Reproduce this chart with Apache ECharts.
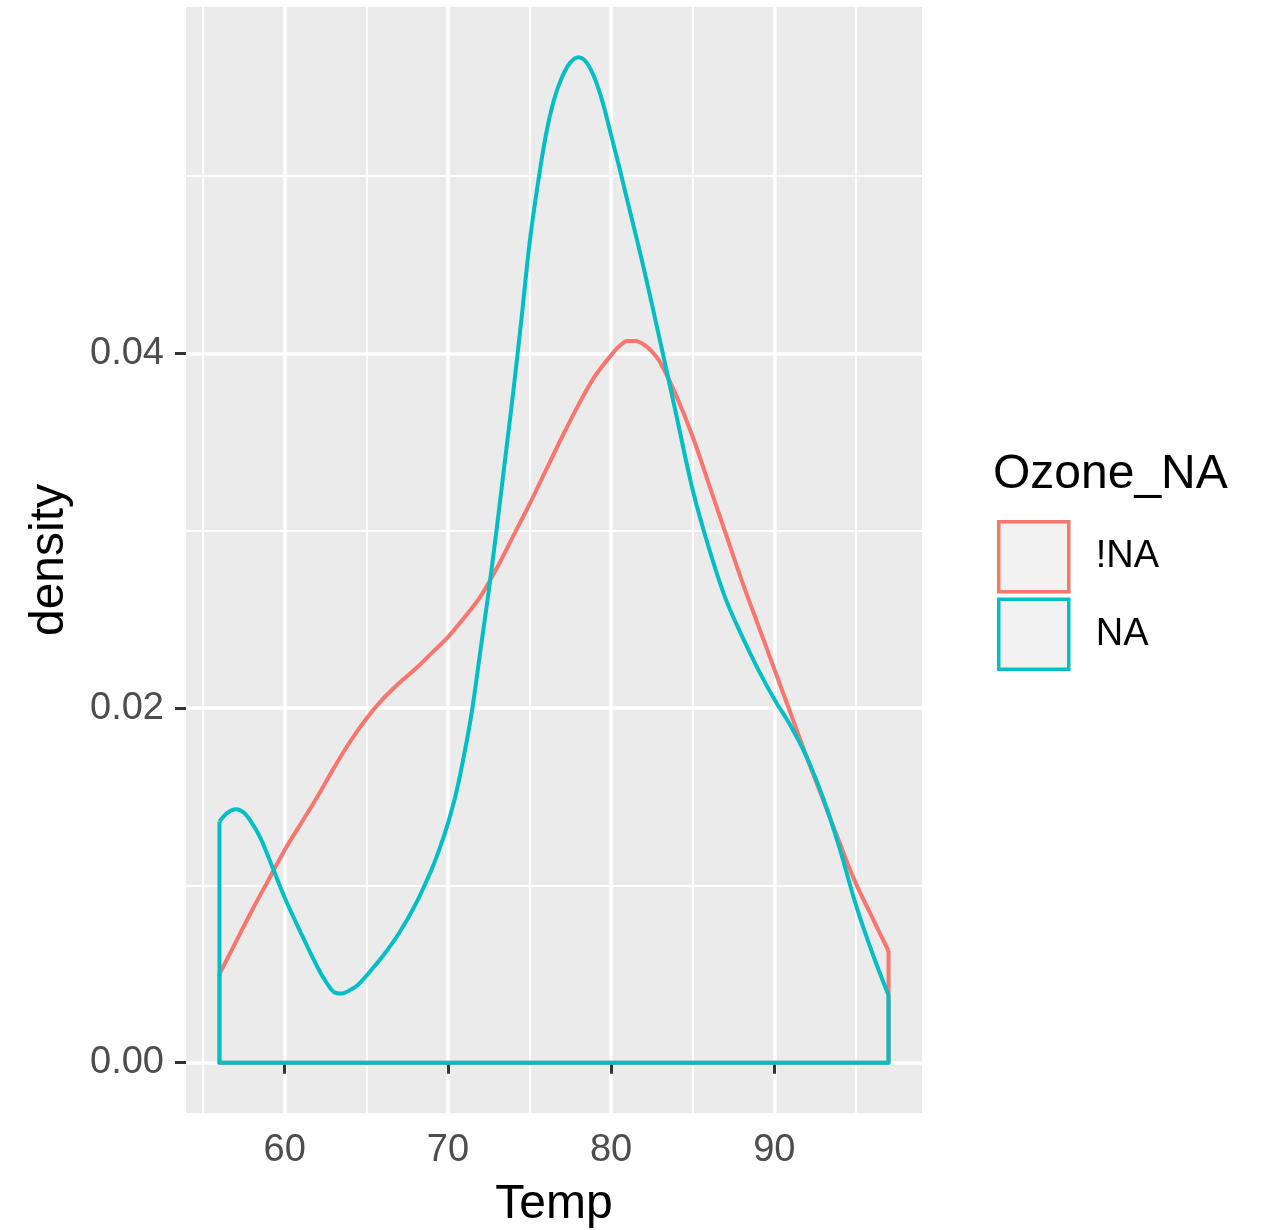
<!DOCTYPE html>
<html>
<head>
<meta charset="utf-8">
<script src="https://cdn.jsdelivr.net/npm/echarts@6/dist/echarts.min.js"></script>
<style>
  html, body { margin: 0; padding: 0; background: #fff; }
  #main { width: 1266px; height: 1230px; }
</style>
</head>
<body>
<div id="main"></div>
<script>
// Ozone present (!NA): Temp values and density
// (half steps where the curve bends hard)
const tempsNotNA = [56, 57, 58, 59, 60, 61, 62, 63, 64, 65, 66, 67, 68, 69, 70, 71, 72, 73, 74, 75,
  76, 77, 78, 79, 80, 80.5, 81, 81.5, 82, 82.5, 83, 84, 85, 86, 87, 88, 89, 90, 91, 92, 93, 94,
  95, 96, 97];
const densityNotNA = [0.0050, 0.0068, 0.0086, 0.0103, 0.0120, 0.0135, 0.0150, 0.0166, 0.0181, 0.0194,
  0.0205, 0.0214, 0.0222, 0.0231, 0.0240, 0.0251, 0.0263, 0.0279, 0.0297, 0.0315,
  0.0334, 0.0353, 0.0371, 0.0387, 0.0399, 0.0404, 0.0407, 0.0407, 0.0405, 0.0401, 0.0395, 0.0376,
  0.0353, 0.0326, 0.0299, 0.0272, 0.0247, 0.0222, 0.0197, 0.0172, 0.0148, 0.0124,
  0.0101, 0.0082, 0.0063];

// Ozone missing (NA)
const tempsNA = [56, 56.5, 57, 57.5, 58, 58.5, 59, 60, 61, 62, 62.5, 63, 63.5, 64, 64.5, 65, 66, 67,
  68, 69, 69.5, 70, 70.5, 71, 71.5, 72, 72.5, 73, 73.5, 74, 74.5, 75, 75.5, 76, 76.5, 77, 77.5,
  78, 78.5, 79, 79.5, 80, 80.5, 81, 82, 83, 84, 85, 86, 87, 88, 89, 90, 91, 92, 93, 94, 95, 96, 97];
const densityNA = [0.0136, 0.0141, 0.0143, 0.0141, 0.0135, 0.0127, 0.0116, 0.0093, 0.0073, 0.0054,
  0.0046, 0.0040, 0.0039, 0.0041, 0.0044, 0.0049, 0.0060, 0.0073,
  0.0089, 0.0109, 0.0121, 0.0135, 0.0152, 0.0174, 0.0200, 0.0233, 0.0266, 0.0302, 0.0340,
  0.0378, 0.0419, 0.0462, 0.0495, 0.0523, 0.0543, 0.0556, 0.0564,
  0.0567, 0.0564, 0.0555, 0.0541, 0.0523, 0.0505, 0.0486, 0.0448, 0.0407, 0.0365, 0.0323, 0.0290,
  0.0262, 0.0241, 0.0222, 0.0205, 0.0190, 0.0172, 0.0149, 0.0121, 0.0089, 0.0062, 0.0038];

const xTicks = [60, 70, 80, 90];
const xMinorTicks = [55, 65, 75, 85, 95];
const yTicks = [0, 0.02, 0.04];
const yMinorTicks = [0.01, 0.03, 0.05];

const groupNames = ["!NA", "NA"];
const groupColors = ["#F8766D", "#00BFC4"];

// ggplot style 5% expansion
const tFirst = Math.min(tempsNotNA[0], tempsNA[0]);
const tLast = Math.max(tempsNotNA[tempsNotNA.length - 1], tempsNA[tempsNA.length - 1]);
const xMin = tFirst - (tLast - tFirst) * 0.05;
const xMax = tLast + (tLast - tFirst) * 0.05;
const yTop = Math.max(...densityNotNA, ...densityNA);
const yMin = -yTop * 0.05;
const yMax = yTop * 1.05;

function curveData(xs, vals) {
  return xs.map((t, i) => [t, vals[i]]);
}

// left edge, baseline and right edge of the density polygon
function edgeData(xs, vals) {
  const n = xs.length - 1;
  return [[xs[0], vals[0]], [xs[0], 0], [xs[n], 0], [xs[n], vals[n]]];
}

const chart = echarts.init(document.getElementById("main"));

const fontName = "Liberation Sans, Arial, sans-serif";
const tickFont = { fontSize: 38, color: "#4D4D4D", fontFamily: fontName };

function lineSeries(name, color, data, smooth) {
  return {
    name: name,
    type: "line",
    data: data,
    smooth: smooth,
    symbol: "none",
    xAxisIndex: 0,
    yAxisIndex: 0,
    lineStyle: { color: color, width: 4, join: "round" },
    itemStyle: { color: color },
    emphasis: { disabled: true },
  };
}

const option = {
  animation: false,
  backgroundColor: "#fff",
  grid: {
    left: 186,
    top: 7,
    width: 736,
    height: 1106,
    show: true,
    backgroundColor: "#EBEBEB",
    borderWidth: 0,
    containLabel: false,
    outerBoundsMode: "none",
  },
  title: {
    text: "Ozone_NA",
    left: 988,
    top: 446,
    textStyle: { fontSize: 48, fontWeight: "normal", color: "#000", fontFamily: fontName },
  },
  legend: {
    orient: "vertical",
    left: 992,
    top: 515,
    itemWidth: 70,
    itemHeight: 70,
    itemGap: 4,
    icon: "rect",
    selectedMode: false,
    textStyle: {
      fontSize: 38,
      color: "#000",
      fontFamily: fontName,
      padding: [0, 0, 0, 22],
    },
    data: groupNames.map((n, i) => ({
      name: n,
      itemStyle: { color: "#F2F2F2", borderColor: groupColors[i], borderWidth: 3.5 },
    })),
  },
  xAxis: [
    {
      type: "value",
      min: xMin,
      max: xMax,
      name: "Temp",
      nameLocation: "middle",
      nameGap: 68,
      nameMoveOverlap: false,
      nameTextStyle: { fontSize: 48, color: "#000", fontFamily: fontName },
      axisLine: { show: false },
      axisTick: { show: true, length: 11, customValues: xTicks, lineStyle: { color: "#333", width: 3 } },
      axisLabel: { customValues: xTicks, margin: 19, ...tickFont },
      splitLine: { show: true, lineStyle: { color: "#fff", width: 3.5 } },
    },
    {
      type: "value",
      min: xMin,
      max: xMax,
      axisLine: { show: false },
      axisTick: { show: false, customValues: xMinorTicks },
      axisLabel: { show: false, customValues: xMinorTicks },
      splitLine: { show: true, lineStyle: { color: "#fff", width: 1.8 } },
    },
  ],
  yAxis: [
    {
      type: "value",
      min: yMin,
      max: yMax,
      name: "density",
      nameLocation: "middle",
      nameGap: 112,
      nameMoveOverlap: false,
      nameTextStyle: { fontSize: 48, color: "#000", fontFamily: fontName },
      axisLine: { show: false },
      axisTick: { show: true, length: 11, customValues: yTicks, lineStyle: { color: "#333", width: 3 } },
      axisLabel: {
        customValues: yTicks,
        margin: 22,
        formatter: (v) => v.toFixed(2),
        ...tickFont,
      },
      splitLine: { show: true, lineStyle: { color: "#fff", width: 3.5 } },
    },
    {
      type: "value",
      min: yMin,
      max: yMax,
      axisLine: { show: false },
      axisTick: { show: false, customValues: yMinorTicks },
      axisLabel: { show: false, customValues: yMinorTicks },
      splitLine: { show: true, lineStyle: { color: "#fff", width: 1.8 } },
    },
  ],
  series: [
    lineSeries(groupNames[0], groupColors[0], curveData(tempsNotNA, densityNotNA), 0.35),
    lineSeries(groupNames[0], groupColors[0], edgeData(tempsNotNA, densityNotNA), false),
    lineSeries(groupNames[1], groupColors[1], curveData(tempsNA, densityNA), 0.35),
    lineSeries(groupNames[1], groupColors[1], edgeData(tempsNA, densityNA), false),
  ],
};

chart.setOption(option);
</script>
</body>
</html>
